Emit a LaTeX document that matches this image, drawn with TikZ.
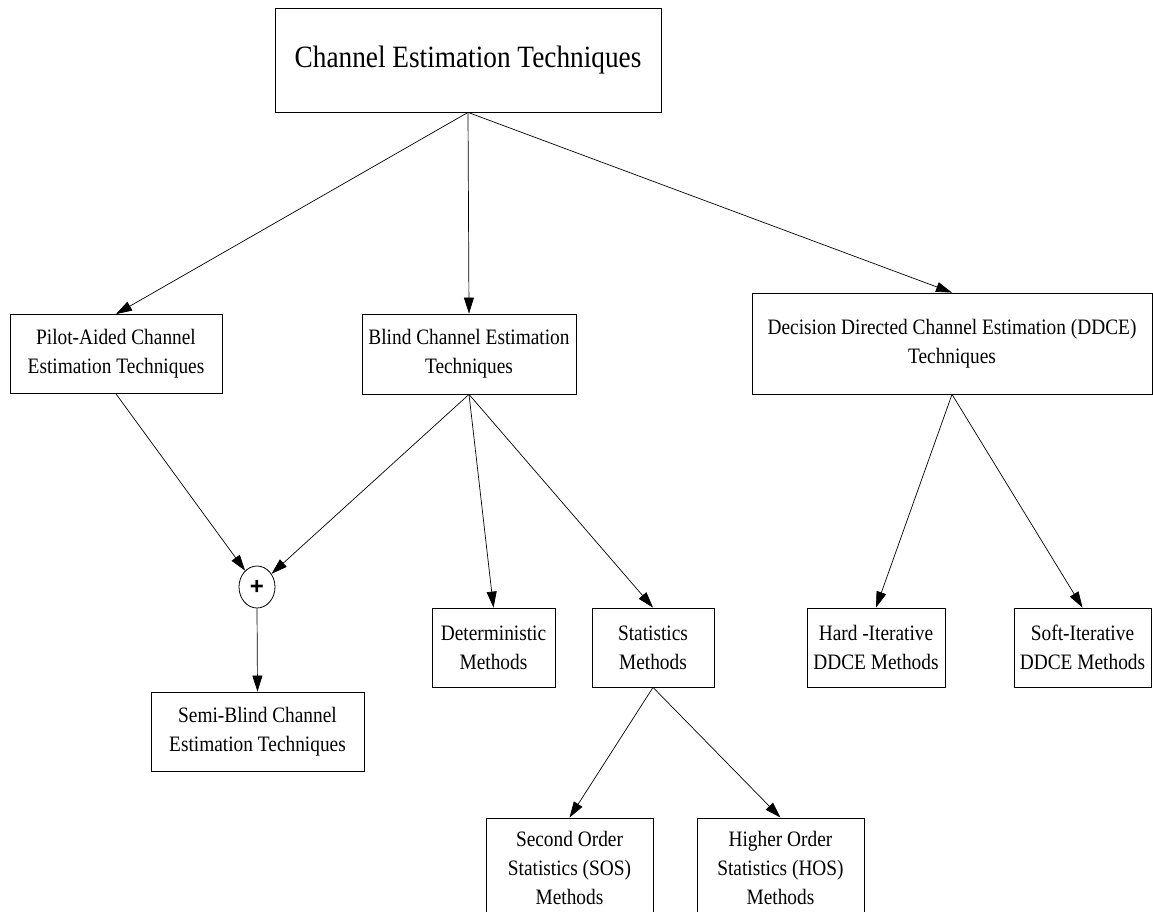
\documentclass[tikz,border=0pt]{standalone}
\usepackage{fontspec}
\setmainfont{Liberation Serif}[FakeStretch=0.88]
\newfontfamily\plusfont{Liberation Sans}
\usetikzlibrary{arrows.meta, shapes.geometric}
\begin{document}
\begin{tikzpicture}[x=1pt, y=-1pt,
  every node/.style={inner sep=0pt, font=\fontsize{22}{29}\selectfont, align=center},
  blk/.style={draw, line width=0.8pt, minimum height=79pt},
  sumnode/.style={draw, ellipse, line width=0.8pt, minimum width=36pt, minimum height=42pt},
  arr/.style={-{Triangle[length=16pt, width=10pt]}, line width=0.7pt}]
\useasboundingbox (0,0) rectangle (1153,912);
\node [blk, minimum width=386pt, minimum height=104pt, font=\fontsize{31}{38}\selectfont] (cet) at (468,60) {Channel Estimation Techniques};
\node [blk, minimum width=212pt] (pilot) at (116,354) {Pilot-Aided Channel\\Estimation Techniques};
\node [blk, minimum width=214pt, minimum height=80pt] (blind) at (469,354) {Blind Channel Estimation\\Techniques};
\node [blk, minimum width=400pt, minimum height=101pt] (ddce) at (952,343.5) {Decision Directed Channel Estimation (DDCE)\\Techniques};
\node [sumnode, font=\plusfont\bfseries\fontsize{24}{24}\selectfont] (sum) at (257,587) {+};
\node [blk, minimum width=213pt] (semi) at (257.5,731.5) {Semi-Blind Channel\\Estimation Techniques};
\node [blk, minimum width=123pt] (determ) at (493.5,647.5) {Deterministic\\Methods};
\node [blk, minimum width=122pt] (stats) at (653,647.5) {Statistics\\Methods};
\node [blk, minimum width=138pt] (hard) at (876,647.5) {Hard -Iterative\\DDCE Methods};
\node [blk, minimum width=137pt] (soft) at (1082.5,647.5) {Soft-Iterative\\DDCE Methods};
\node [blk, minimum width=167pt, minimum height=100pt] (sos) at (569.5,868) {Second Order\\Statistics (SOS)\\Methods};
\node [blk, minimum width=167pt, minimum height=100pt] (hos) at (780.5,868) {Higher Order\\Statistics (HOS)\\Methods};
\draw [arr] (cet.south) -- (pilot.north);
\draw [arr] (cet.south) -- (blind.north);
\draw [arr] (cet.south) -- (ddce.north);
\draw [arr] (pilot.south) -- (sum);
\draw [arr] (blind.south) -- (sum);
\draw [arr] (sum.south) -- (semi.north);
\draw [arr] (blind.south) -- (determ.north);
\draw [arr] (blind.south) -- (stats.north);
\draw [arr] (ddce.south) -- (hard.north);
\draw [arr] (ddce.south) -- (soft.north);
\draw [arr] (stats.south) -- (sos.north);
\draw [arr] (stats.south) -- (hos.north);
\end{tikzpicture}
\end{document}
